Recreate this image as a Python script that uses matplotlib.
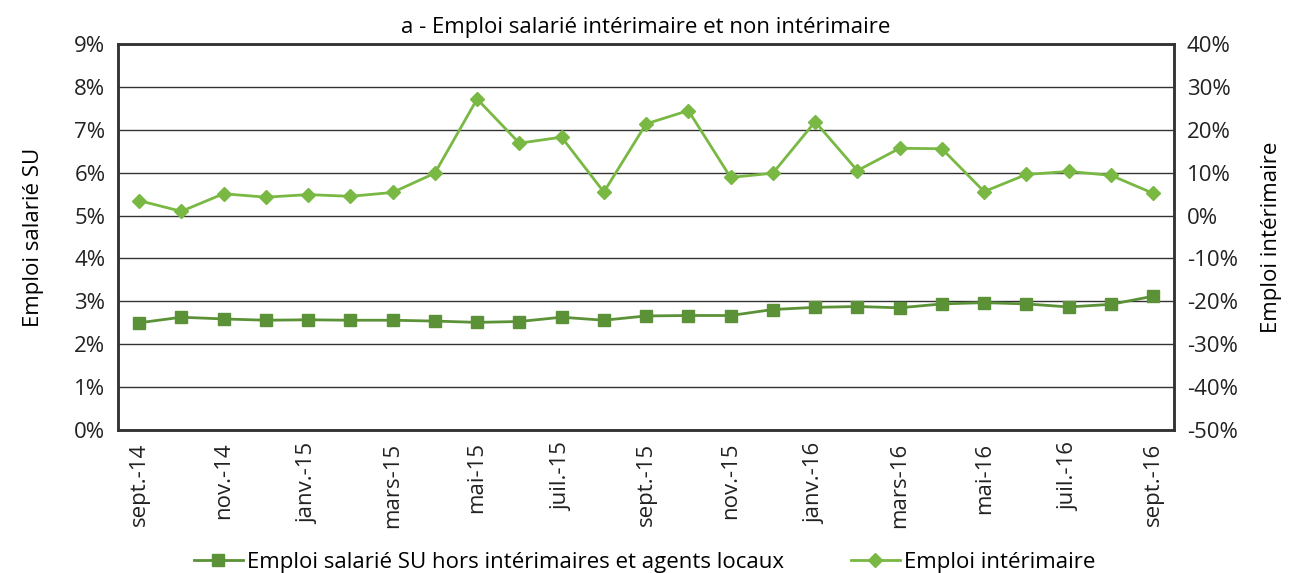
import numpy as np
import matplotlib.pyplot as plt

plt.rcParams['font.family'] = ['Open Sans', 'DejaVu Sans']

mois = ['sept.-14', 'oct.-14', 'nov.-14', 'déc.-14', 'janv.-15', 'févr.-15', 'mars-15',
        'avr.-15', 'mai-15', 'juin-15', 'juil.-15', 'août-15', 'sept.-15', 'oct.-15',
        'nov.-15', 'déc.-15', 'janv.-16', 'févr.-16', 'mars-16', 'avr.-16', 'mai-16',
        'juin-16', 'juil.-16', 'août-16', 'sept.-16']

# emploi salarié hors intérimaires (%), axe gauche
salarie = [2.50, 2.63, 2.59, 2.56, 2.57, 2.56, 2.56, 2.54, 2.51, 2.53, 2.63, 2.56, 2.66,
           2.67, 2.67, 2.81, 2.86, 2.88, 2.85, 2.94, 2.97, 2.94, 2.87, 2.93, 3.12]

# emploi intérimaire (%), axe droit
interim = [3.5, 1.0, 5.1, 4.3, 4.9, 4.5, 5.4, 9.9, 27.2, 16.9, 18.3, 5.5, 21.4, 24.5,
           8.9, 9.9, 21.9, 10.5, 15.7, 15.6, 5.6, 9.6, 10.3, 9.4, 5.2]

vert_fonce = '#5b9238'
vert_clair = '#79b843'

x = np.arange(len(mois))

fig, ax = plt.subplots(figsize=(12.89, 5.73), dpi=100)
fig.subplots_adjust(left=0.0915, right=0.911, top=0.923, bottom=0.2496)
ax2 = ax.twinx()

l1, = ax.plot(x, salarie, '-s', color=vert_fonce, lw=2, ms=9,
              label='Emploi salarié SU hors intérimaires et agents locaux')
l2, = ax2.plot(x, interim, '-D', color=vert_clair, lw=2, ms=7,
               label='Emploi intérimaire')

ax.set_xlim(-0.5, len(mois) - 0.5)
ax.set_ylim(0, 9)
ax2.set_ylim(-50, 40)
ax.set_yticks(np.arange(0, 10, 1))
ax.set_yticklabels([f'{v}%' for v in range(0, 10)])
ax2.set_yticks(np.arange(-50, 50, 10))
ax2.set_yticklabels([f'{v}%' for v in range(-50, 50, 10)])
ax.set_xticks(x[::2])
ax.set_xticklabels(mois[::2], rotation=90)

ax.yaxis.grid(True, color='#333333', lw=1)
ax.set_axisbelow(True)
for a in (ax, ax2):
    a.tick_params(length=0, labelsize=16, colors='#222222', pad=9)
    for s in a.spines.values():
        s.set_color('#333333')
        s.set_linewidth(1.8)

ax.set_ylabel('Emploi salarié SU', fontsize=16, labelpad=22)
ax2.set_ylabel('Emploi intérimaire', fontsize=16, labelpad=17)
ax.set_title('a - Emploi salarié intérimaire et non intérimaire', fontsize=16, pad=8)

fig.legend(handles=[l1, l2], loc='lower center', ncol=2, frameon=False, fontsize=16,
           bbox_to_anchor=(0.5, -0.035), handlelength=2.2, columnspacing=3, handletextpad=0.2)

fig.savefig('out.png')
